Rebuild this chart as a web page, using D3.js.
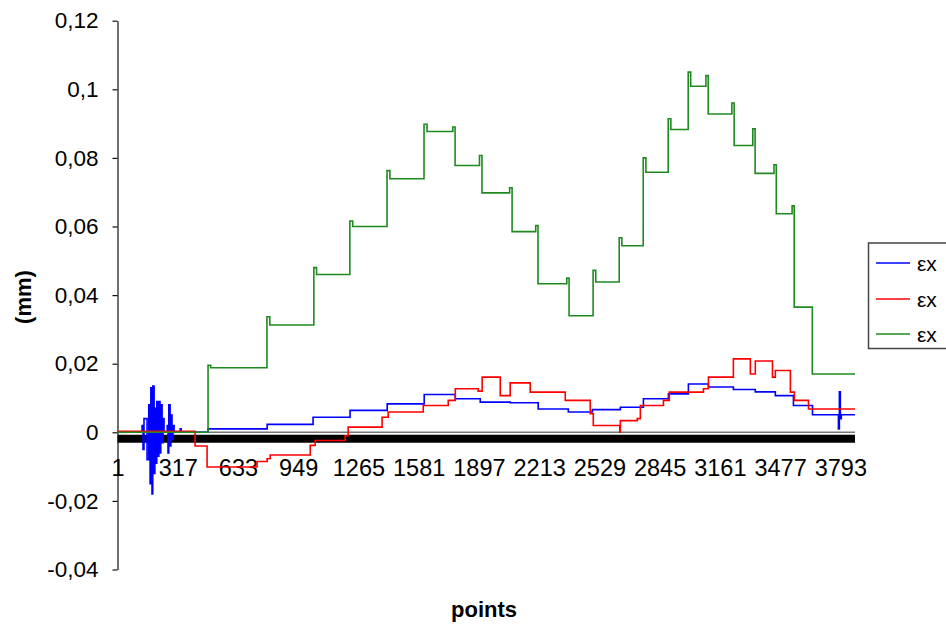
<!DOCTYPE html>
<html>
<head>
<meta charset="utf-8">
<script src="https://cdn.jsdelivr.net/npm/d3@7"></script>
<style>
  body { margin: 0; background: #fff; }
  text { font-family: "Liberation Sans", Arial, sans-serif; }
</style>
</head>
<body>
<script>
// tick labels
const xTickValues = [1, 317, 633, 949, 1265, 1581, 1897, 2213, 2529, 2845, 3161, 3477, 3793];
const yTickValues = [-0.04, -0.02, 0, 0.02, 0.04, 0.06, 0.08, 0.1, 0.12];
const yTickLabels = ["-0,04", "-0,02", "0", "0,02", "0,04", "0,06", "0,08", "0,1", "0,12"];
const seriesNames = ["\u03b5x", "\u03b5x", "\u03b5x"];
const lastPoint = 3870;

// blue series (step starts / levels), incl. noise at the start
const blueX = [1, 130, 135, 140, 156, 165, 172, 176, 182, 186, 193, 197, 203, 207, 214, 218, 224, 228, 235, 240, 245,
  262, 266, 270, 277, 281, 287, 292, 298, 330, 335, 476, 786, 1027, 1221, 1416, 1610, 1773, 1904, 2061, 2208,
  2366, 2492, 2639, 2760, 2891, 2996, 3101, 3232, 3347, 3452, 3547, 3647, 3783, 3788, 3793, 3798, 3870];
const blueY = [0, 0.002, -0.005, 0.004, -0.008, 0.008, -0.015, 0.013, -0.018, 0.0135, -0.012, 0.007, -0.009, 0.009, -0.007, 0.009, -0.006, 0.008, -0.003, 0.004, 0,
  0.002, -0.006, 0.008, -0.004, 0.005, -0.002, 0.002, 0, 0.001, 0, 0.001, 0.0023, 0.0044, 0.0064, 0.0083, 0.011, 0.0098, 0.0088, 0.0086, 0.0068,
  0.0059, 0.0066, 0.0073, 0.0098, 0.0112, 0.0141, 0.0132, 0.0125, 0.0118, 0.0107, 0.0078, 0.0051, 0.001, 0.0118, 0.004, 0.0051, 0.0051];

// red series
const redX = [1, 408, 471, 733, 786, 802, 1012, 1038, 1195, 1211, 1389, 1421, 1605, 1736, 1773, 1893, 1914, 2009, 2061, 2166,
  2350, 2481, 2497, 2636, 2639, 2728, 2744, 2865, 2896, 3075, 3101, 3232, 3321, 3347, 3437, 3452, 3531, 3552, 3626, 3870];
const redY = [0.0003, -0.004, -0.0101, -0.0085, -0.0077, -0.0066, -0.0038, -0.0024, -0.001, 0.0015, 0.0044, 0.0059, 0.0078, 0.0093, 0.0127, 0.012, 0.0161, 0.0107, 0.0144, 0.0117,
  0.0093, 0.0054, 0.002, 0, 0.0034, 0.004, 0.0078, 0.0093, 0.0117, 0.0127, 0.0161, 0.0214, 0.017, 0.0208, 0.0161, 0.018, 0.0117, 0.0093, 0.0068, 0.0068];

// green series (with the small overshoots at each step)
const greenX = [1, 476, 490, 785, 800, 1031, 1045, 1220, 1235, 1415, 1430, 1609, 1625, 1760, 1772, 1900, 1913, 2058, 2071,
  2195, 2207, 2358, 2370, 2496, 2510, 2633, 2647, 2759, 2773, 2890, 2904, 2995, 3008, 3088, 3100, 3224, 3236,
  3334, 3346, 3445, 3457, 3540, 3551, 3646, 3870];
const greenY = [0, 0.0195, 0.0188, 0.0337, 0.0313, 0.048, 0.046, 0.0616, 0.060, 0.0763, 0.0739, 0.0898, 0.0877, 0.089, 0.0778, 0.0807, 0.0698, 0.0713, 0.0585,
  0.0603, 0.0433, 0.045, 0.034, 0.0472, 0.0438, 0.0567, 0.0544, 0.080, 0.0758, 0.0914, 0.0883, 0.105, 0.1009, 0.104, 0.0928, 0.096, 0.0836,
  0.0885, 0.0755, 0.078, 0.0637, 0.066, 0.0365, 0.017, 0.017];

const colors = ["#0000ff", "#ff0000", "#1f8a1f"];

const width = 946, height = 630;

const svg = d3.select("body").append("svg")
  .attr("width", width)
  .attr("height", height);

const x = d3.scaleLinear().domain([1, lastPoint]).range([117.5, 855]);
const y = d3.scaleLinear().domain([-0.04, 0.12]).range([569.5, 20.7]);

// y axis
const yAxis = svg.append("g")
  .attr("transform", `translate(${x(1)},0)`)
  .call(d3.axisLeft(y)
    .tickValues(yTickValues)
    .tickFormat((d, i) => yTickLabels[i])
    .tickSize(5)
    .tickSizeOuter(0)
    .tickPadding(14));
yAxis.select(".domain").attr("stroke", "#111").attr("stroke-width", 1.2);
yAxis.selectAll(".tick line").attr("stroke", "#111").attr("stroke-width", 1.2);
yAxis.selectAll("text").attr("font-size", 22.5).attr("fill", "#000");

// zero line and black band under it
svg.append("line")
  .attr("x1", x(1)).attr("x2", x(lastPoint))
  .attr("y1", y(0)).attr("y2", y(0))
  .attr("stroke", "#777").attr("stroke-width", 1.5);
svg.append("line")
  .attr("x1", x(1)).attr("x2", x(lastPoint))
  .attr("y1", y(0) + 6.5).attr("y2", y(0) + 6.5)
  .attr("stroke", "#000").attr("stroke-width", 8);

// x axis labels
const xAxis = svg.append("g")
  .attr("transform", `translate(0,${y(0)})`)
  .call(d3.axisBottom(x)
    .tickValues(xTickValues)
    .tickFormat(d3.format("d"))
    .tickSize(0)
    .tickPadding(27));
xAxis.select(".domain").remove();
xAxis.selectAll("text").attr("font-size", 23.5).attr("fill", "#000");

// series
const line = d3.line()
  .x(d => x(d[0]))
  .y(d => y(d[1]))
  .curve(d3.curveStepAfter);

const series = [
  d3.zip(blueX, blueY),
  d3.zip(redX, redY),
  d3.zip(greenX, greenY)
];

series.forEach((s, i) => {
  svg.append("path")
    .datum(s)
    .attr("fill", "none")
    .attr("stroke", colors[i])
    .attr("stroke-width", 1.6)
    .attr("d", line);
});

// axis titles
svg.append("text")
  .attr("transform", "translate(31,297) rotate(-90)")
  .attr("text-anchor", "middle")
  .attr("font-size", 22)
  .attr("font-weight", "bold")
  .text("(mm)");

svg.append("text")
  .attr("x", 484)
  .attr("y", 617)
  .attr("text-anchor", "middle")
  .attr("font-size", 22)
  .attr("font-weight", "bold")
  .text("points");

// legend
const legend = svg.append("g");
legend.append("rect")
  .attr("x", 868.5).attr("y", 243)
  .attr("width", 100).attr("height", 105.5)
  .attr("fill", "#fff")
  .attr("stroke", "#444")
  .attr("stroke-width", 1.5);

const legendY = [263, 299, 334];
seriesNames.forEach((name, i) => {
  legend.append("line")
    .attr("x1", 876).attr("x2", 910)
    .attr("y1", legendY[i]).attr("y2", legendY[i])
    .attr("stroke", colors[i])
    .attr("stroke-width", 1.6);
  legend.append("text")
    .attr("x", 917)
    .attr("y", legendY[i])
    .attr("dy", "0.38em")
    .attr("font-size", 21)
    .text(name);
});
</script>
</body>
</html>
